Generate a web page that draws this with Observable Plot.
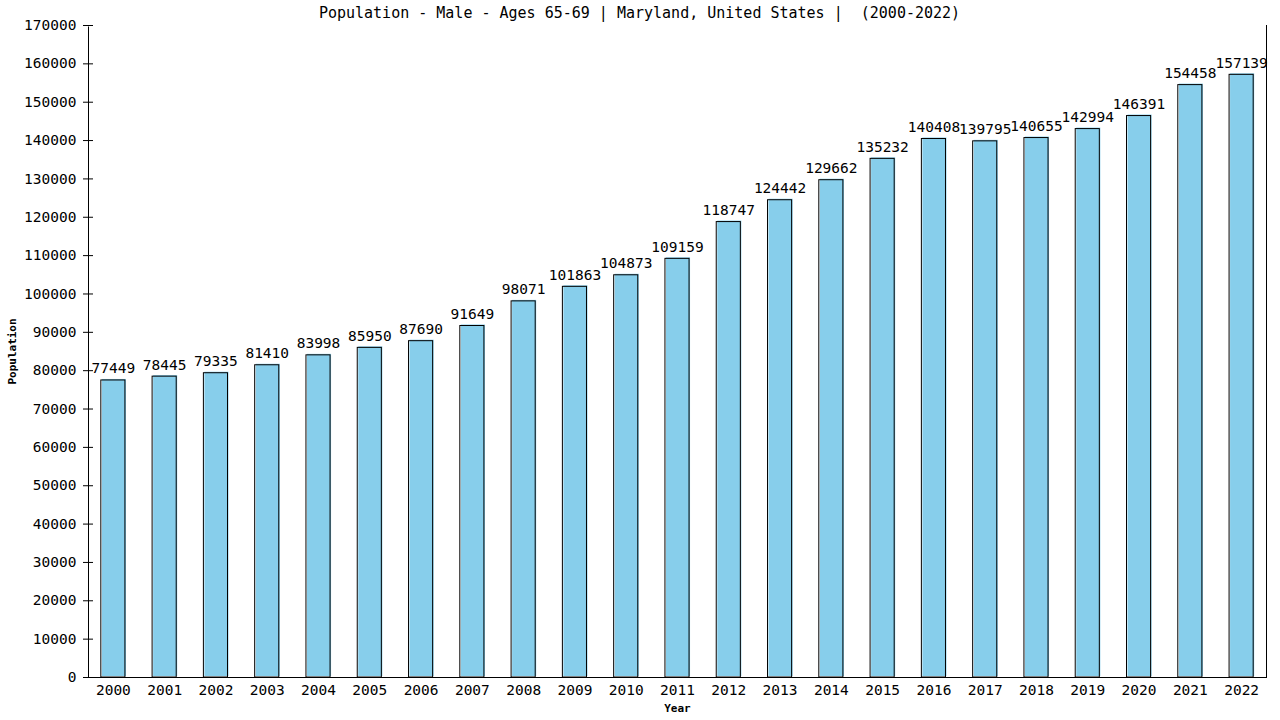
<!DOCTYPE html>
<html>
<head>
<meta charset="utf-8">
<script src="https://cdn.jsdelivr.net/npm/d3@7"></script>
<script src="https://cdn.jsdelivr.net/npm/@observablehq/plot@0.6"></script>
<style>
  html, body { margin: 0; padding: 0; background: #fff; }
  svg { display: block; }
</style>
</head>
<body>
<div id="chart"></div>
<script>
const years = ["2000","2001","2002","2003","2004","2005","2006","2007","2008","2009","2010","2011","2012","2013","2014","2015","2016","2017","2018","2019","2020","2021","2022"];
const population = [77449,78445,79335,81410,83998,85950,87690,91649,98071,101863,104873,109159,118747,124442,129662,135232,140408,139795,140655,142994,146391,154458,157139];
const yTicks = [0,10000,20000,30000,40000,50000,60000,70000,80000,90000,100000,110000,120000,130000,140000,150000,160000,170000];
const title = "Population - Male - Ages 65-69 | Maryland, United States |  (2000-2022)";

const data = years.map((y, i) => ({year: y, value: population[i]}));
const font = "DejaVu Sans Mono, monospace";

const chart = Plot.plot({
  width: 1280,
  height: 720,
  marginLeft: 88,
  marginRight: 14,
  marginTop: 25,
  marginBottom: 43,
  style: {fontFamily: font, fontSize: "14.5px", color: "black", background: "white"},
  x: {type: "band", domain: years, paddingInner: 0.53, paddingOuter: 0.25, round: false, label: null},
  y: {domain: [0, 170000], label: null},
  marks: [
    Plot.frame({stroke: "black"}),
    Plot.ruleY([170000], {stroke: "white", strokeWidth: 2}),
    Plot.barY(data, {x: "year", y: "value", fill: "#87CEEB", dx: 1, dy: -1}),
    Plot.barY(data, {x: "year", y: "value", fill: "none", stroke: "black", strokeWidth: 1}),
    Plot.ruleY([0], {stroke: "black"}),
    Plot.text(data, {x: "year", y: "value", text: d => String(d.value), lineAnchor: "bottom", dy: -7, fontSize: 14.5, fill: "black"}),
    Plot.axisY({ticks: yTicks, tickSize: 5, tickPadding: 7, tickFormat: d => String(d), label: null, fontSize: 14.5}),
    Plot.axisY({ticks: yTicks, tickSize: -5, text: null, label: null}),
    Plot.axisX({tickSize: 0, tickPadding: 7, label: null, fontSize: 14.5}),
    Plot.text([title], {frameAnchor: "top", dx: -38, dy: -12, lineAnchor: "middle", fontSize: 15, fill: "black"}),
    Plot.text(["Year"], {frameAnchor: "bottom", dy: 31, lineAnchor: "middle", fontSize: 11, fontWeight: "bold", fill: "black"}),
    Plot.text(["Population"], {frameAnchor: "left", dx: -76, rotate: -90, textAnchor: "middle", lineAnchor: "middle", fontSize: 11, fontWeight: "bold", fill: "black"})
  ]
});
document.getElementById("chart").appendChild(chart);
</script>
</body>
</html>
